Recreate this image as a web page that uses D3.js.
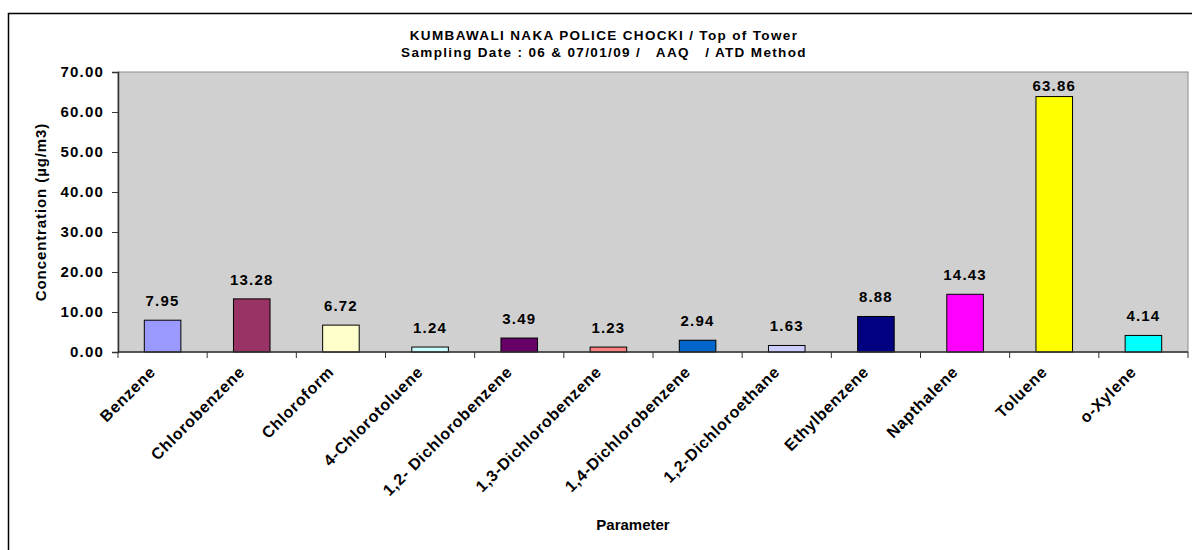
<!DOCTYPE html>
<html>
<head>
<meta charset="utf-8">
<script src="https://cdn.jsdelivr.net/npm/d3@7"></script>
<style>
  body { margin: 0; background: #fff; }
  text { font-family: Arial, "Liberation Sans", sans-serif; font-weight: bold; fill: #000; }
</style>
</head>
<body>
<svg id="chart" width="1192" height="550"></svg>
<script>
"use strict";

const categories = ["Benzene", "Chlorobenzene", "Chloroform", "4-Chlorotoluene", "1,2- Dichlorobenzene",
    "1,3-Dichlorobenzene", "1,4-Dichlorobenzene", "1,2-Dichloroethane", "Ethylbenzene", "Napthalene",
    "Toluene", "o-Xylene"];
const values = [7.95, 13.28, 6.72, 1.24, 3.49, 1.23, 2.94, 1.63, 8.88, 14.43, 63.86, 4.14];
const colors = ["#9999ff", "#993366", "#ffffcc", "#ccffff", "#660066", "#ff8080", "#0066cc", "#ccccff",
    "#000080", "#ff00ff", "#ffff00", "#00ffff"];
const yTicks = [0, 10, 20, 30, 40, 50, 60, 70];
const titleLines = ["KUMBAWALI NAKA POLICE CHOCKI / Top of Tower", "Sampling Date : 06 & 07/01/09 /   AAQ   / ATD Method"];

const svg = d3.select("#chart");
const plot = {left: 118, top: 72, right: 1188, bottom: 352};

// chart area border
svg.append("rect")
    .attr("x", 8.5).attr("y", 13.5)
    .attr("width", 1300).attr("height", 700)
    .attr("fill", "#fff")
    .attr("stroke", "#000")
    .attr("stroke-width", 1.5);

const x = d3.scaleBand()
    .domain(categories)
    .range([plot.left, plot.right])
    .padding(0);
const y = d3.scaleLinear()
    .domain([0, 70])
    .range([plot.bottom, plot.top]);

// plot area
svg.append("rect")
    .attr("x", plot.left).attr("y", plot.top)
    .attr("width", plot.right - plot.left)
    .attr("height", plot.bottom - plot.top)
    .attr("fill", "#d0d0d0")
    .attr("stroke", "#8c8c8c")
    .attr("stroke-width", 1);

// bars
const barW = x.bandwidth() * 0.41;
svg.append("g").selectAll("rect")
    .data(values)
    .join("rect")
    .attr("x", (d, i) => x(categories[i]) + (x.bandwidth() - barW) / 2)
    .attr("y", d => y(d))
    .attr("width", barW)
    .attr("height", d => y(0) - y(d))
    .attr("fill", (d, i) => colors[i])
    .attr("stroke", "#000")
    .attr("stroke-width", 1);

// data labels
svg.append("g").selectAll("text")
    .data(values)
    .join("text")
    .attr("x", (d, i) => x(categories[i]) + x.bandwidth() / 2)
    .attr("y", d => Math.max(y(d) - 14, plot.top + 19))
    .attr("text-anchor", "middle")
    .attr("font-size", 15)
    .attr("letter-spacing", 1.2)
    .text(d => d.toFixed(2));

// y axis
const yAxis = svg.append("g")
    .attr("transform", `translate(${plot.left},0)`)
    .call(d3.axisLeft(y).tickValues(yTicks).tickSize(6).tickPadding(8).tickFormat(d3.format(".2f")));
yAxis.select(".domain").attr("stroke", "#333").attr("stroke-width", 1.5);
yAxis.selectAll(".tick line").attr("stroke", "#333");
yAxis.selectAll(".tick text")
    .attr("font-size", 15)
    .attr("letter-spacing", 1.2)
    .attr("font-family", "Arial, 'Liberation Sans', sans-serif")
    .attr("font-weight", "bold")
    .attr("fill", "#000");

// x axis line and ticks between categories
const xg = svg.append("g");
xg.append("line")
    .attr("x1", plot.left).attr("x2", plot.right)
    .attr("y1", plot.bottom).attr("y2", plot.bottom)
    .attr("stroke", "#333").attr("stroke-width", 1.5);
xg.selectAll(".xt")
    .data(categories.concat([null]))
    .join("line")
    .attr("class", "xt")
    .attr("x1", (d, i) => plot.left + i * x.step())
    .attr("x2", (d, i) => plot.left + i * x.step())
    .attr("y1", plot.bottom).attr("y2", plot.bottom + 6)
    .attr("stroke", "#333");

xg.selectAll(".xl")
    .data(categories)
    .join("text")
    .attr("class", "xl")
    .attr("transform", d => `translate(${x(d) + x.bandwidth() / 2 - 6},${plot.bottom + 21}) rotate(-45)`)
    .attr("text-anchor", "end")
    .attr("font-size", 16)
    .attr("letter-spacing", 0.7)
    .text(d => d);

// titles
svg.append("g").selectAll("text")
    .data(titleLines)
    .join("text")
    .attr("x", 604)
    .attr("y", (d, i) => 40 + i * 17)
    .attr("text-anchor", "middle")
    .attr("font-size", 13.5)
    .attr("letter-spacing", 1.35)
    .style("white-space", "pre")
    .text(d => d);

svg.append("text")
    .attr("transform", `translate(46,${(plot.top + plot.bottom) / 2}) rotate(-90)`)
    .attr("text-anchor", "middle")
    .attr("font-size", 15)
    .attr("letter-spacing", 0.9)
    .text("Concentration (µg/m3)");

svg.append("text")
    .attr("x", 633)
    .attr("y", 530)
    .attr("text-anchor", "middle")
    .attr("font-size", 15)
    .text("Parameter");
</script>
</body>
</html>
